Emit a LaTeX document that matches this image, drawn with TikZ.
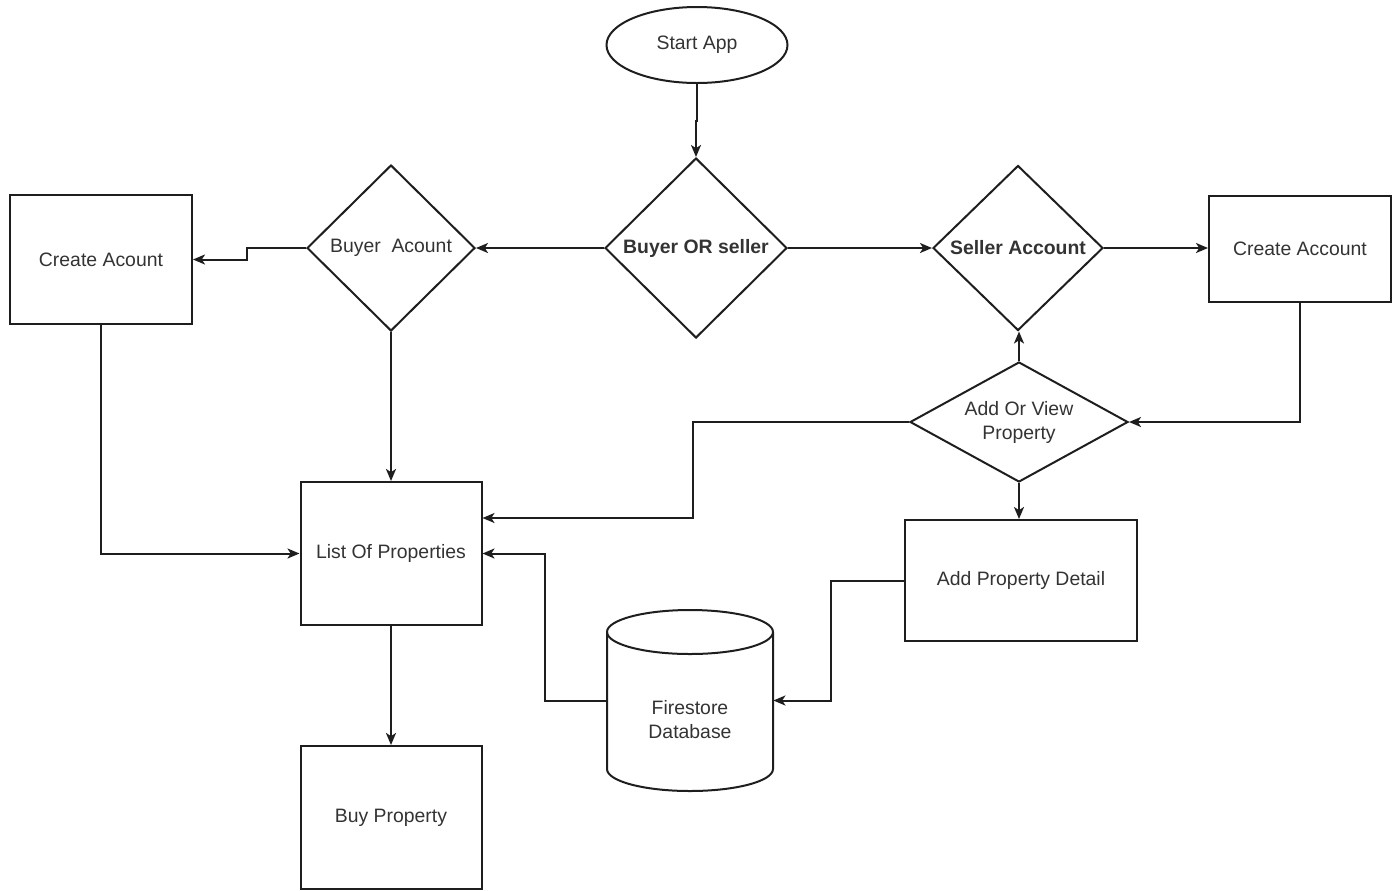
\documentclass[tikz,border=0pt]{standalone}
\usepackage{fontspec}
\setmainfont{Liberation Sans}
\usetikzlibrary{shapes.geometric,arrows.meta,calc}
\definecolor{inkline}{HTML}{1E1E1E}
\definecolor{inktext}{HTML}{333333}
\tikzset{
  base/.style={draw=inkline, line width=1pt, text=inktext, inner sep=0pt,
    font=\fontsize{9.7}{12}\selectfont, align=center},
  box/.style={base, rectangle},
  decision/.style={base, diamond},
  terminal/.style={base, ellipse},
  flow/.style={draw=inkline, line width=1pt,
    -{Stealth[length=6pt,width=5pt,inset=1.6pt]}},
}
\begin{document}
\begin{tikzpicture}[x=0.5pt,y=-0.5pt]
\useasboundingbox (0,0) rectangle (1398,890);

% start and top-level choice
\node[terminal, minimum width=90.5pt, minimum height=38pt] (start) at (697,45) {Start App};
\node[decision, minimum width=91pt, minimum height=90pt, font=\fontsize{9.7}{12}\selectfont\bfseries] (bos) at (696,248) {Buyer OR seller};

% buyer branch
\node[decision, minimum width=84pt, minimum height=83pt] (buyer) at (391,248) {Buyer\ \ Acount};
\node[box, minimum width=91pt, minimum height=64.5pt] (ca1) at (101,259.5) {Create Acount};
\node[box, minimum width=90.5pt, minimum height=71.5pt] (list) at (391,553.5) {List Of Properties};
\node[box, minimum width=90.5pt, minimum height=71.5pt] (buy) at (391,817.5) {Buy Property};

% seller branch
\node[decision, minimum width=85pt, minimum height=82.5pt, font=\fontsize{9.7}{12}\selectfont\bfseries] (seller) at (1018,248) {Seller Account};
\node[box, minimum width=91pt, minimum height=53pt] (ca2) at (1300,249) {Create Account};
\node[decision, aspect=1.8, minimum width=109pt, minimum height=60pt] (addview) at (1019,422) {Add Or View\\Property};
\node[box, minimum width=116pt, minimum height=60.5pt] (apd) at (1021,580.5) {Add Property Detail};

% database cylinder
\node[minimum width=83pt, minimum height=90.5pt, inner sep=0pt] (db) at (690,700.5) {};
\draw[draw=inkline, line width=1pt]
  (607,632) -- (607,769) arc[start angle=180, end angle=0, x radius=83, y radius=22]
  -- (773,632) arc[start angle=0, end angle=-180, x radius=83, y radius=22] -- cycle;
\draw[draw=inkline, line width=1pt]
  (607,632) arc[start angle=180, end angle=0, x radius=83, y radius=22];
\node[text=inktext, font=\fontsize{9.7}{12}\selectfont, align=center] (dblabel) at (690,720) {Firestore\\Database};

% connectors
\draw[flow] (start.south) -- ++(0,37) -| (bos.north);
\draw[flow] (bos.west) -- (buyer.east);
\draw[flow] (bos.east) -- (seller.west);
\draw[flow] (buyer.west) -- ++(-59,0) |- (ca1.east);
\draw[flow] (seller.east) -- (seller.east -| ca2.west);
\draw[flow] (ca2.south) |- (addview.east);
\draw[flow] (addview.north) -- (addview.north |- seller.south);
\draw[flow] (addview.south) -- (addview.south |- apd.north);
\draw[flow] (addview.west) -- ++(-216,0) |- ($(list.east)+(0,-35.5)$);
\draw[flow] (db.west) -- ++(-62,0) |- (list.east);
\draw[flow] (apd.west) -- ++(-73,0) |- (db.east);
\draw[flow] (list.south) -- (buy.north);
\draw[flow] (ca1.south) |- (list.west);
\draw[flow] (buyer.south) -- (list.north);
\end{tikzpicture}
\end{document}
